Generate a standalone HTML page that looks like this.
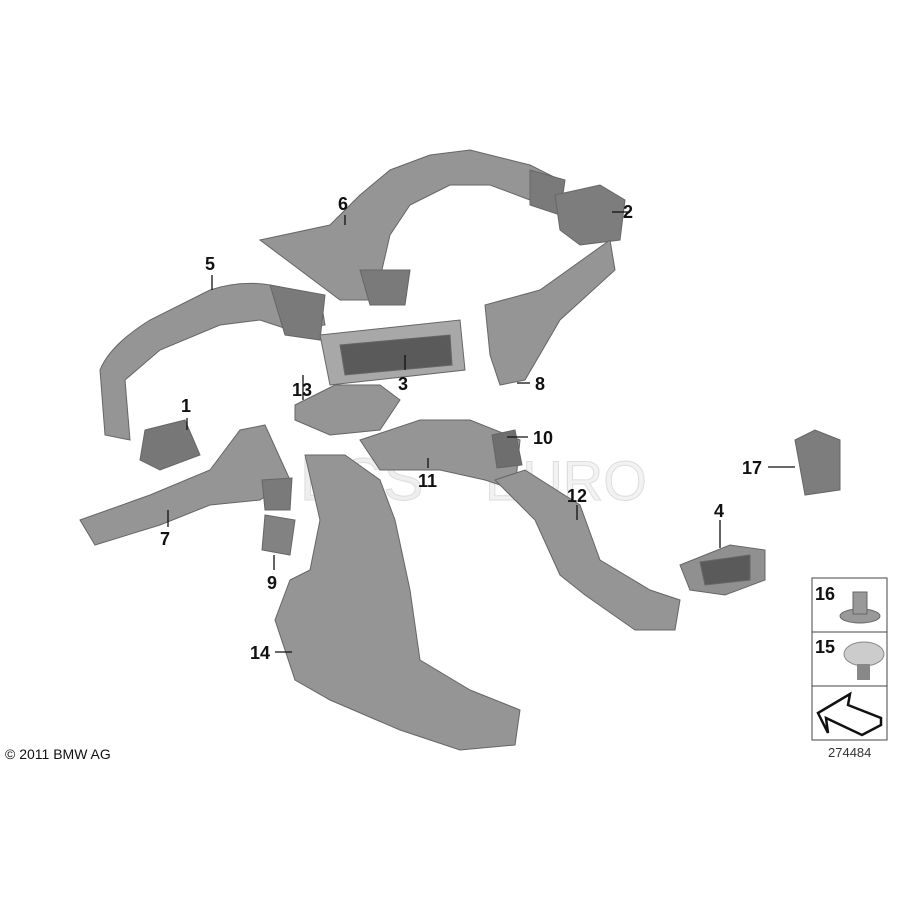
<!DOCTYPE html>
<html><head><style>
html,body{margin:0;padding:0;background:#fff;}
svg{display:block;}
text{font-family:"Liberation Sans",sans-serif;font-weight:bold;font-size:18px;fill:#111;}
</style></head><body>
<svg width="900" height="900" viewBox="0 0 900 900" xmlns="http://www.w3.org/2000/svg">
<text x="300" y="500" style="font-size:60px;font-weight:normal;fill:#eee;stroke:#ddd">ECS</text>
<text x="485" y="500" style="font-size:56px;font-weight:normal;fill:#f2f2f2;stroke:#ddd">EURO</text>
<g fill="#959595" stroke="#666" stroke-width="1">
<!-- 5 duct -->
<path d="M105 435 L100 370 Q110 345 150 320 L210 290 Q240 280 270 285 L320 295 L325 325 L290 330 L260 320 L220 325 L160 350 L125 380 L130 440 Z"/>
<path d="M270 285 L325 295 L320 340 L285 335 Z" fill="#7a7a7a"/>
<!-- 6 duct -->
<path d="M260 240 L330 225 L360 195 L390 170 L430 155 L470 150 L530 165 L560 180 L555 210 L530 200 L490 185 L450 185 L410 205 L390 235 L375 300 L340 300 L300 270 Z"/>
<path d="M360 270 L410 270 L405 305 L370 305 Z" fill="#7a7a7a"/>
<path d="M530 170 L565 180 L560 215 L530 205 Z" fill="#7a7a7a"/>
<!-- 2 -->
<path d="M555 195 L600 185 L625 200 L620 240 L580 245 L560 230 Z" fill="#7d7d7d"/>
<!-- 3 vent -->
<path d="M320 335 L460 320 L465 370 L330 385 Z" fill="#a8a8a8"/>
<path d="M340 345 L450 335 L452 365 L345 375 Z" fill="#5a5a5a"/>
<!-- 8 -->
<path d="M485 305 L540 290 L610 240 L615 270 L560 320 L525 380 L500 385 L490 355 Z"/>
<!-- 13 -->
<path d="M295 405 L335 385 L380 385 L400 400 L380 430 L330 435 L295 420 Z"/>
<!-- 1 -->
<path d="M145 430 L185 420 L200 455 L160 470 L140 460 Z" fill="#777"/>
<!-- 7 -->
<path d="M80 520 L150 495 L210 470 L240 430 L265 425 L290 480 L260 500 L210 505 L160 525 L95 545 Z"/>
<path d="M262 480 L292 478 L290 510 L265 510 Z" fill="#7a7a7a"/>
<!-- 9 -->
<path d="M265 515 L295 520 L290 555 L262 550 Z" fill="#828282"/>
<!-- 11 -->
<path d="M360 440 L420 420 L470 420 L520 440 L515 490 L485 480 L440 470 L380 470 Z"/>
<!-- 10 -->
<path d="M492 435 L515 430 L522 465 L497 468 Z" fill="#6e6e6e"/>
<!-- 14 -->
<path d="M305 455 L345 455 L380 480 L395 520 L410 590 L420 660 L470 690 L520 710 L515 745 L460 750 L400 730 L330 700 L295 680 L275 620 L290 580 L310 570 L320 520 Z"/>
<!-- 12 -->
<path d="M495 480 L525 470 L580 505 L600 560 L650 590 L680 600 L675 630 L635 630 L585 595 L560 575 L535 520 Z"/>
<!-- 4 -->
<path d="M680 565 L730 545 L765 550 L765 580 L725 595 L690 590 Z" fill="#909090"/>
<path d="M700 562 L750 555 L750 580 L705 585 Z" fill="#5a5a5a"/>
<!-- 17 -->
<path d="M795 440 L815 430 L840 440 L840 490 L805 495 Z" fill="#7d7d7d"/>
</g>
<g stroke="#111" stroke-width="1.3" fill="none">
<path d="M612 212 L628 212"/><path d="M345 215 L345 225"/><path d="M212 275 L212 290"/>
<path d="M405 355 L405 370"/><path d="M303 375 L303 400"/><path d="M187 418 L187 430"/>
<path d="M517 383 L530 383"/><path d="M507 437 L528 437"/><path d="M428 458 L428 468"/>
<path d="M577 505 L577 520"/><path d="M168 510 L168 527"/><path d="M274 555 L274 570"/>
<path d="M720 520 L720 548"/><path d="M768 467 L795 467"/><path d="M275 652 L292 652"/>
</g>
<text x="623" y="218">2</text><text x="338" y="210">6</text><text x="205" y="270">5</text>
<text x="398" y="390">3</text><text x="292" y="396">13</text><text x="181" y="412">1</text>
<text x="535" y="390">8</text><text x="533" y="444">10</text><text x="418" y="487">11</text>
<text x="567" y="502">12</text><text x="160" y="545">7</text><text x="267" y="589">9</text>
<text x="714" y="517">4</text><text x="742" y="474">17</text><text x="250" y="659">14</text>
<text x="5" y="759" style="font-size:14px;font-weight:normal">© 2011 BMW AG</text>
<g stroke="#444" stroke-width="1" fill="#fff">
<rect x="812" y="578" width="75" height="162"/>
<line x1="812" y1="632" x2="887" y2="632"/><line x1="812" y1="686" x2="887" y2="686"/>
</g>
<text x="815" y="600">16</text><text x="815" y="653">15</text>
<ellipse cx="860" cy="616" rx="20" ry="7" fill="#999" stroke="#666"/>
<rect x="853" y="592" width="14" height="22" fill="#999" stroke="#666"/>
<ellipse cx="864" cy="654" rx="20" ry="12" fill="#ccc" stroke="#888"/>
<rect x="857" y="664" width="13" height="16" fill="#888"/>
<path d="M818 713 L850 694 L848 705 L881 718 L881 725 L862 735 L826 718 L828 733 Z" fill="#fff" stroke="#111" stroke-width="2.5" stroke-linejoin="miter"/>
<text x="828" y="757" style="font-size:13px;font-weight:normal;fill:#333">274484</text>
</svg>
</body></html>
